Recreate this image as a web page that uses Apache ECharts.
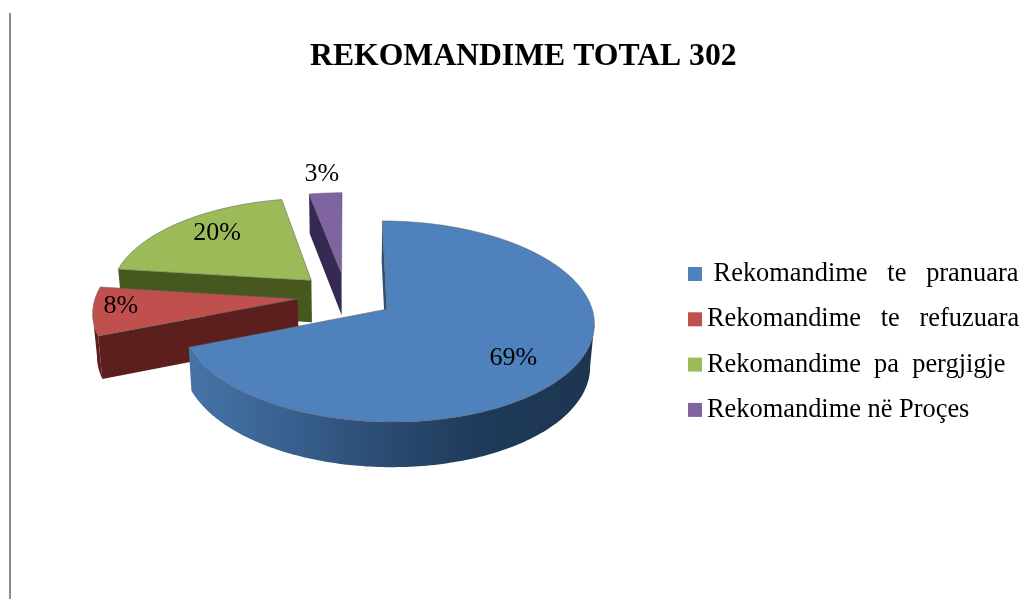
<!DOCTYPE html>
<html>
<head>
<meta charset="utf-8">
<style>
  html, body { margin: 0; padding: 0; background: #fff; }
  #chart { width: 1022px; height: 599px; }
</style>
<script src="https://cdn.jsdelivr.net/npm/echarts@6/dist/echarts.min.js"></script>
</head>
<body>
<div id="chart"></div>
<script>
const titleText = 'REKOMANDIME TOTAL 302';
const categories = ['Rekomandime te pranuara', 'Rekomandime te refuzuara', 'Rekomandime pa pergjigje', 'Rekomandime në Proçes'];
const values = [69, 8, 20, 3];

// look of the slices, same order as categories
const topColors = ['#4f81bd', '#c0504d', '#9bbb59', '#8064a2'];
const wallColors = ['#2f4f77', '#5c1f1d', '#47581f', '#372a52'];
const labelReach = [0.74, 0.85, 0.76, 1.27]; // how far along the radius the % label sits
const labelNudge = [[-8, 6], [-3, -3], [7, -2], [0, 0]];
const wordGaps = [3, 3, 2, 1];

// fake 3D: the pie plane seen from above, far side smaller
const view = { cx: 346, cy: 296, rx: 202, ry: 95.8, tilt: 0.121, explode: 0.24, depth: 42, shrink: 0.983 };

const total = values.reduce((a, b) => a + b, 0);

function project(u, v) {
  const w = 1 + view.tilt * v;
  return [view.cx + view.rx * u / w, view.cy - view.ry * v / w];
}

function lower(p) {
  // walls get a bit taller towards the viewer
  return [view.cx + (p[0] - view.cx) * view.shrink, p[1] + view.depth + (p[1] - view.cy) * 0.025];
}

function renderSlice(params) {
  const i = params.seriesIndex;
  const before = values.slice(0, i).reduce((a, b) => a + b, 0);
  const start = before / total * Math.PI * 2;
  const end = (before + values[i]) / total * Math.PI * 2;
  const mid = (start + end) / 2;
  const ou = view.explode * Math.sin(mid);
  const ov = view.explode * Math.cos(mid);

  const apex = project(ou, ov);
  const arc = [];
  const steps = Math.max(4, Math.round((end - start) / (Math.PI / 180)));
  for (let s = 0; s <= steps; s++) {
    const a = start + (end - start) * s / steps;
    arc.push(project(ou + Math.sin(a), ov + Math.cos(a)));
  }

  const children = [];
  // wall from the apex to the start of the arc, only seen when it runs leftwards
  if (arc[0][0] < apex[0]) {
    children.push({
      type: 'polygon',
      shape: { points: [apex, arc[0], lower(arc[0]), lower(apex)] },
      style: { fill: wallColors[i] }
    });
  }
  // curved wall, the part of the arc that faces us
  const front = arc.filter((p, k) => k < arc.length - 1 && arc[k + 1][0] < p[0]);
  if (front.length) {
    front.push(arc[arc.indexOf(front[front.length - 1]) + 1]);
    const fill = i === 0
      ? new echarts.graphic.LinearGradient(0, 0, 1, 0, [
          { offset: 0, color: '#4674a8' },
          { offset: 0.25, color: '#38608f' },
          { offset: 0.5, color: '#2a4a70' },
          { offset: 0.72, color: '#1f3a5a' },
          { offset: 1, color: '#1d3551' }
        ])
      : wallColors[i];
    children.push({
      type: 'polygon',
      shape: { points: front.concat(front.map(lower).reverse()) },
      style: { fill: fill }
    });
  }
  // top face
  children.push({
    type: 'polygon',
    shape: { points: [apex].concat(arc) },
    style: { fill: topColors[i], stroke: 'rgba(95,95,95,0.55)', lineWidth: 1, lineJoin: 'round' }
  });
  // label
  const pos = project(ou + labelReach[i] * Math.sin(mid), ov + labelReach[i] * Math.cos(mid));
  children.push({
    type: 'text',
    z2: 20,
    style: {
      x: pos[0] + labelNudge[i][0],
      y: pos[1] + labelNudge[i][1],
      text: values[i] + '%',
      align: 'center',
      verticalAlign: 'middle',
      fontFamily: 'Liberation Serif',
      fontSize: 26,
      fill: '#000'
    }
  });
  return { type: 'group', children: children };
}

const myChart = echarts.init(document.getElementById('chart'), null, { renderer: 'canvas' });
myChart.setOption({
  animation: false,
  backgroundColor: '#fff',
  title: {
    text: titleText,
    left: 310,
    top: 41,
    padding: 0,
    textStyle: { fontFamily: 'Liberation Serif', fontWeight: 'bold', fontSize: 31.7, color: '#000' }
  },
  legend: {
    orient: 'vertical',
    left: 688,
    top: 260,
    padding: 0,
    itemWidth: 14,
    itemHeight: 14,
    itemGap: 17.3,
    icon: 'rect',
    selectedMode: false,
    data: categories,
    formatter: function(name) {
      const i = categories.indexOf(name);
      const text = name.replace(/ /g, ' '.repeat(wordGaps[i]));
      return i === 0 ? ' ' + text : text;
    },
    textStyle: { fontFamily: 'Liberation Serif', fontSize: 26.4, color: '#000', lineHeight: 28 }
  },
  graphic: [{
    // page margin rule on the left
    type: 'line',
    silent: true,
    shape: { x1: 10, y1: 13, x2: 10, y2: 599 },
    style: { stroke: '#8c8c8c', lineWidth: 2 }
  }],
  series: categories.map((name, i) => ({
    name: name,
    type: 'custom',
    coordinateSystem: 'none',
    z: 10 - i,
    silent: true,
    itemStyle: { color: topColors[i] },
    renderItem: renderSlice,
    data: [values[i]]
  }))
});
</script>
</body>
</html>
